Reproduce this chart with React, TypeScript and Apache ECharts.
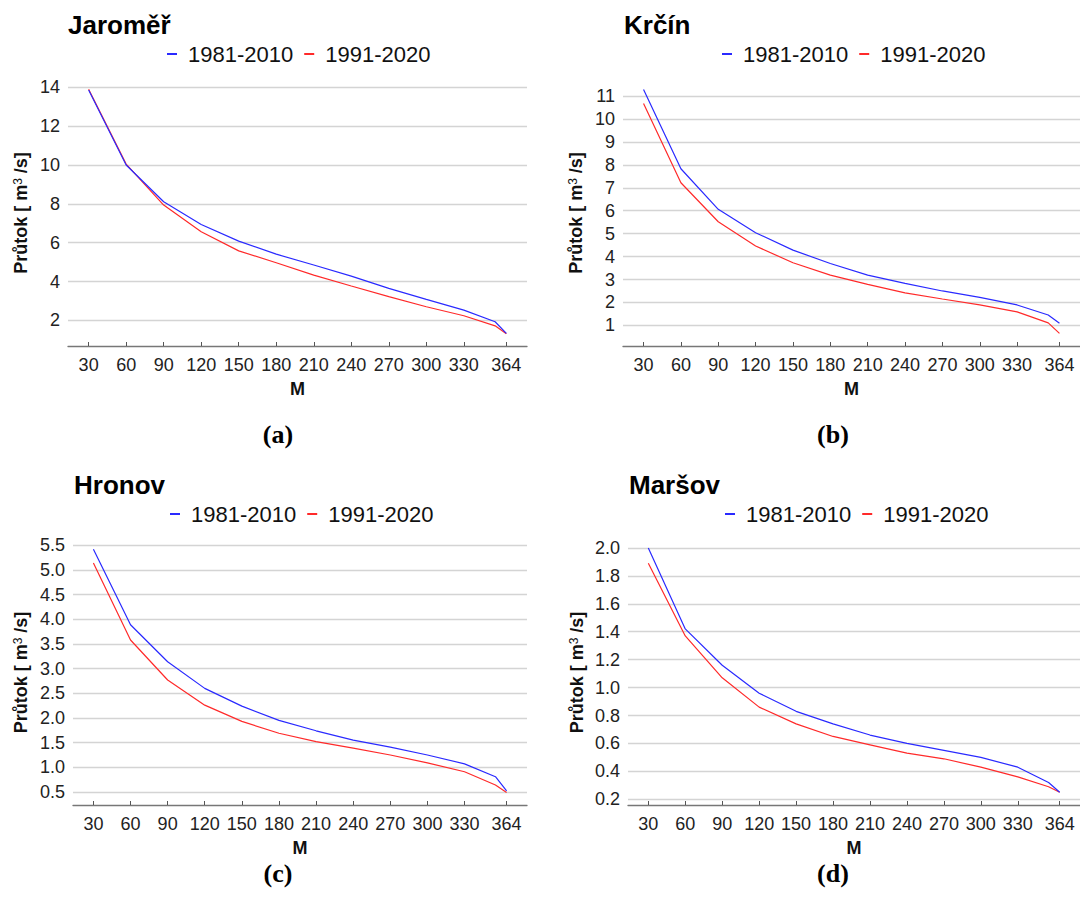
import React, { useEffect, useRef } from 'react';
import * as echarts from 'echarts';

// M-day values (days of the year)
const days = [30, 60, 90, 120, 150, 180, 210, 240, 270, 300, 330, 355, 364];
const xTickValues = [30, 60, 90, 120, 150, 180, 210, 240, 270, 300, 330, 364];
const seriesNames = ['1981-2010', '1991-2020'];
const stations = ['Jaroměř', 'Krčín', 'Hronov', 'Maršov'];
const captions = ['(a)', '(b)', '(c)', '(d)'];

const jaromer8110 = [13.86, 10.0, 8.11, 6.94, 6.08, 5.41, 4.85, 4.28, 3.65, 3.08, 2.53, 1.93, 1.33];
const jaromer9120 = [13.9, 10.05, 7.94, 6.56, 5.58, 4.97, 4.33, 3.77, 3.22, 2.7, 2.24, 1.72, 1.31];
const krcin8110 = [11.29, 7.83, 6.06, 5.04, 4.28, 3.7, 3.19, 2.83, 2.5, 2.22, 1.89, 1.45, 1.09];
const krcin9120 = [10.68, 7.22, 5.52, 4.46, 3.73, 3.19, 2.79, 2.42, 2.15, 1.89, 1.59, 1.11, 0.65];
const hronov8110 = [5.42, 3.89, 3.14, 2.6, 2.24, 1.95, 1.74, 1.55, 1.41, 1.25, 1.07, 0.81, 0.52];
const hronov9120 = [5.14, 3.58, 2.77, 2.26, 1.93, 1.69, 1.52, 1.39, 1.25, 1.09, 0.91, 0.64, 0.49];
const marsov8110 = [2.0, 1.42, 1.16, 0.96, 0.83, 0.74, 0.66, 0.6, 0.55, 0.5, 0.43, 0.32, 0.25];
const marsov9120 = [1.89, 1.37, 1.07, 0.86, 0.74, 0.65, 0.59, 0.53, 0.49, 0.43, 0.36, 0.29, 0.25];

const jaromerTicks = [2, 4, 6, 8, 10, 12, 14];
const krcinTicks = [1, 2, 3, 4, 5, 6, 7, 8, 9, 10, 11];
const hronovTicks = [0.5, 1.0, 1.5, 2.0, 2.5, 3.0, 3.5, 4.0, 4.5, 5.0, 5.5];
const marsovTicks = [0.2, 0.4, 0.6, 0.8, 1.0, 1.2, 1.4, 1.6, 1.8, 2.0];

const seriesData = [
  [jaromer8110, jaromer9120],
  [krcin8110, krcin9120],
  [hronov8110, hronov9120],
  [marsov8110, marsov9120],
];
const yTicks = [jaromerTicks, krcinTicks, hronovTicks, marsovTicks];
const yDecimals = [0, 0, 1, 1];

// layout (pixels), kept apart from data
const panels = [
  { left: 68, top: 80, width: 459, height: 266, yMin: 0.68, yMax: 14.38, nameGap: 38, legendLeft: 167, legendTop: 43, titleLeft: 68, titleTop: 12, capX: 278, capY: 434 },
  { left: 623, top: 80, width: 459, height: 266, yMin: 0.1, yMax: 11.7, nameGap: 38, legendLeft: 722, legendTop: 43, titleLeft: 624, titleTop: 12, capX: 833, capY: 434 },
  { left: 73, top: 540, width: 454, height: 265, yMin: 0.236, yMax: 5.607, nameGap: 43, legendLeft: 170, legendTop: 503, titleLeft: 74, titleTop: 472, capX: 278, capY: 873 },
  { left: 628, top: 540, width: 454, height: 265, yMin: 0.159, yMax: 2.057, nameGap: 42, legendLeft: 725, legendTop: 503, titleLeft: 629, titleTop: 472, capX: 833, capY: 873 },
];

const colors = ['#2a2aff', '#ff2a2a'];
const sans = 'Liberation Sans, Arial, Helvetica, sans-serif';

export default function App() {
  const ref = useRef<HTMLDivElement>(null);

  useEffect(() => {
    if (!ref.current) return;
    const chart = echarts.init(ref.current, undefined, { renderer: 'svg' });

    const grid: any[] = [];
    const xAxis: any[] = [];
    const yAxis: any[] = [];
    const series: any[] = [];
    const legend: any[] = [];
    const title: any[] = [];
    const graphic: any[] = [];

    panels.forEach((p, i) => {
      grid.push({ left: p.left, top: p.top, width: p.width, height: p.height, containLabel: false });
      xAxis.push({
        type: 'value',
        gridIndex: i,
        min: 13.5,
        max: 380.5,
        name: 'M',
        nameLocation: 'middle',
        nameGap: 34,
        nameTextStyle: { fontFamily: sans, fontWeight: 'bold', fontSize: 18, color: '#111' },
        axisLine: { show: true, lineStyle: { color: '#777', width: 1.3 } },
        axisTick: { show: true, inside: true, length: 4, customValues: xTickValues, lineStyle: { color: '#555', width: 1 } },
        axisLabel: { customValues: xTickValues, margin: 10, fontFamily: sans, fontSize: 18, color: '#222' },
        splitLine: { show: false },
      });
      yAxis.push({
        type: 'value',
        gridIndex: i,
        min: p.yMin,
        max: p.yMax,
        name: 'Průtok [ m{sup|3} /s]',
        nameLocation: 'middle',
        nameGap: p.nameGap,
        nameRotate: 90,
        nameTextStyle: {
          fontFamily: sans,
          fontWeight: 'bold',
          fontSize: 18,
          color: '#111',
          rich: {
            sup: { fontFamily: sans, fontSize: 12, fontWeight: 'normal', color: '#111', verticalAlign: 'top', lineHeight: 12 },
          },
        },
        axisLine: { show: false },
        axisTick: { show: false, customValues: yTicks[i] },
        axisLabel: {
          customValues: yTicks[i],
          margin: 8,
          fontFamily: sans,
          fontSize: 18,
          color: '#222',
          formatter: (v: number) => v.toFixed(yDecimals[i]),
        },
        splitLine: { show: true, lineStyle: { color: '#d4d4d4', width: 1.3 } },
      });
      seriesNames.forEach((name, k) => {
        series.push({
          type: 'line',
          name,
          xAxisIndex: i,
          yAxisIndex: i,
          data: days.map((d, j) => [d, seriesData[i][k][j]]),
          symbol: 'none',
          lineStyle: { color: colors[k], width: 1.2 },
          itemStyle: { color: colors[k] },
          z: k === 0 ? 3 : 2,
        });
      });
      legend.push({
        left: p.legendLeft,
        top: p.legendTop,
        padding: 0,
        itemGap: 11,
        itemWidth: 10,
        itemHeight: 2,
        icon: 'rect',
        data: seriesNames,
        textStyle: { fontFamily: sans, fontSize: 22, color: '#111', padding: [0, 0, 0, 6] },
      });
      title.push({
        text: stations[i],
        left: p.titleLeft,
        top: p.titleTop,
        padding: 0,
        textStyle: { fontFamily: sans, fontWeight: 'bold', fontSize: 26, color: '#000' },
      });
      graphic.push({
        type: 'text',
        x: p.capX,
        y: p.capY,
        style: {
          text: captions[i],
          align: 'center',
          verticalAlign: 'middle',
          fontFamily: 'Liberation Serif, DejaVu Serif, serif',
          fontWeight: 'bold',
          fontSize: 26,
          fill: '#000',
        },
      });
    });

    chart.setOption({
      animation: false,
      backgroundColor: '#ffffff',
      grid,
      xAxis,
      yAxis,
      series,
      legend,
      title,
      graphic,
    });

    return () => chart.dispose();
  }, []);

  return (
    <div
      ref={ref}
      style={{ position: 'fixed', left: 0, top: 0, width: 1080, height: 913, background: '#fff' }}
    />
  );
}
